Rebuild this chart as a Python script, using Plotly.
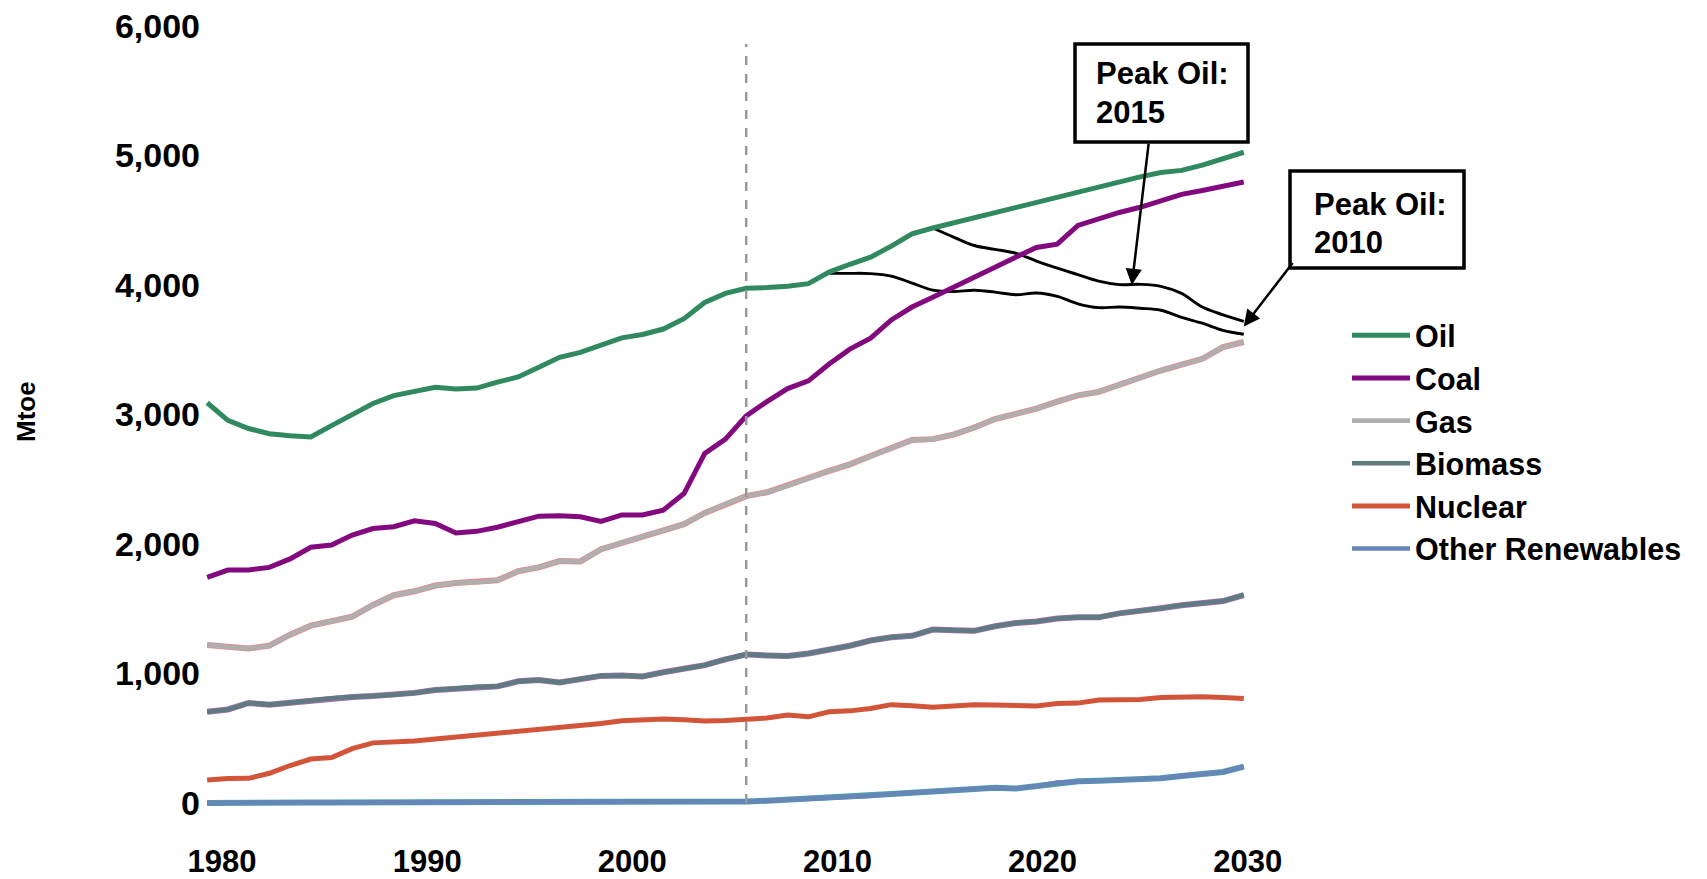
import plotly.graph_objects as go

# ---------------- data ----------------
years = list(range(1980, 2031))

oil = [3091, 2955, 2892, 2852, 2837, 2826, 2914, 3005, 3085, 3146,
       3178, 3210, 3198, 3204, 3250, 3290, 3365, 3442, 3480, 3540,
       3592, 3618, 3660, 3740, 3865, 3935, 3975, 3980, 3990, 4010,
       4100, 4160, 4215, 4300, 4395, 4440, 4480, 4515, 4555, 4595,
       4635, 4675, 4715, 4755, 4795, 4835, 4868, 4885, 4925, 4970,
       5025]
coal = [1743, 1799, 1800, 1820, 1885, 1975, 1992, 2069, 2120, 2134,
        2180, 2159, 2085, 2098, 2130, 2170, 2215, 2219, 2210, 2175,
        2225, 2225, 2262, 2390, 2700, 2810, 2990, 3100, 3200, 3260,
        3390, 3505, 3590, 3730, 3830, 3905, 3985, 4060, 4135, 4215,
        4290, 4315, 4460, 4515, 4560, 4600, 4650, 4700, 4730, 4758,
        4795]
gas = [1220, 1203, 1194, 1215, 1300, 1370, 1405, 1440, 1530, 1605,
       1635, 1680, 1700, 1705, 1720, 1790, 1820, 1869, 1866, 1960,
       2010, 2060, 2105, 2154, 2240, 2310, 2370, 2400, 2450, 2510,
       2565, 2615, 2680, 2740, 2803, 2810, 2845, 2900, 2965, 3005,
       3045, 3100, 3148, 3175, 3230, 3290, 3340, 3385, 3430, 3520,
       3560]
biomass = [705, 723, 773, 760, 775, 793, 810, 819, 826, 836,
           851, 873, 884, 897, 901, 940, 950, 932, 958, 982,
           985, 978, 1010, 1040, 1065, 1110, 1148, 1140, 1135, 1155,
           1181, 1215, 1255, 1280, 1292, 1340, 1335, 1330, 1365, 1390,
           1402, 1425, 1434, 1434, 1465, 1482, 1505, 1528, 1540, 1560,
           1606]
nuclear = [178, 190, 191, 230, 290, 340, 352, 420, 465, 470,
           480, 495, 510, 525, 540, 552, 568, 582, 593, 615,
           636, 642, 650, 643, 633, 637, 645, 657, 680, 666,
           705, 712, 730, 760, 752, 740, 750, 760, 758, 752,
           749, 768, 772, 795, 795, 800, 815, 821, 821, 816,
           808]
renewables = [0, 3, 5, 5, 5, 5, 5, 5, 5, 8,
              12, 12, 10, 10, 10, 8, 7, 5, 5, 5,
              5, 5, 5, 5, 5, 8, 12, 18, 25, 32,
              40, 48, 56, 70, 80, 88, 95, 107, 118, 112,
              130, 158, 168, 172, 178, 182, 192, 210, 228, 240,
              282]

peak2015_years = list(range(2015, 2031))
peak2015 = [4440, 4370, 4305, 4275, 4245, 4185, 4130, 4080, 4030, 4003,
            4005, 3990, 3935, 3830, 3770, 3720]
peak2010_years = list(range(2010, 2031))
peak2010 = [4090, 4090, 4088, 4068, 4015, 3960, 3950, 3960, 3945, 3925,
            3938, 3912, 3855, 3825, 3830, 3820, 3805, 3750, 3705, 3650,
            3620]

base_year = 2006
tick_labels = ["1980", "1990", "2000", "2010", "2020", "2030"]
y_ticks = [0, 1000, 2000, 3000, 4000, 5000, 6000]

# ---------------- layout geometry ----------------
# the page body adds an 8px margin, so the figure starts 8px in from the window edge
OFF = 8
W, H = 1707 - OFF, 879 - OFF
ML, MT = 203 - OFF, 13 - OFF
PLOT_R, PLOT_B = 1250 - OFF, 829 - OFF
MR, MB = W - PLOT_R, H - PLOT_B
PW, PH = PLOT_R - ML, PLOT_B - MT


def px_x(px):  # window pixel -> paper fraction
    return (px - OFF - ML) / PW


def px_y(py):
    return 1 - (py - OFF - MT) / PH


FONT = "Liberation Sans, Arial, sans-serif"

fig = go.Figure()

# peak oil scenario curves
fig.add_trace(go.Scatter(x=peak2015_years, y=peak2015, mode="lines",
                         line=dict(color="black", width=2.9, shape="spline"),
                         showlegend=False, hoverinfo="skip"))
fig.add_trace(go.Scatter(x=peak2010_years, y=peak2010, mode="lines",
                         line=dict(color="black", width=2.9, shape="spline"),
                         showlegend=False, hoverinfo="skip"))

series = [
    ("Oil", oil, "#318a5f", None),
    ("Coal", coal, "#820a7e", None),
    ("Gas", gas, "#b0aeae", "#e58a8a"),
    ("Biomass", biomass, "#5f7a80", "#a070b0"),
    ("Nuclear", nuclear, "#d2553a", None),
    ("Other Renewables", renewables, "#6685b8", "#4ea0a8"),
]

for name, vals, color, edge in series:
    if edge:
        fig.add_trace(go.Scatter(x=years, y=vals, mode="lines",
                                 line=dict(color=edge, width=6),
                                 showlegend=False, hoverinfo="skip"))
    fig.add_trace(go.Scatter(x=years, y=vals, mode="lines", name=name,
                             line=dict(color=color, width=5 if not edge else 4.6)))

# vertical dashed base-year line
fig.add_shape(type="line", xref="x", yref="y", x0=base_year, x1=base_year,
              y0=0, y1=5860, line=dict(color="#999999", width=2.5, dash="dash"))

# boxes
for (x0, x1, y0, y1) in [(1075, 1248, 44, 142), (1290, 1464, 171, 268)]:
    fig.add_shape(type="rect", xref="paper", yref="paper",
                  x0=px_x(x0), x1=px_x(x1), y0=px_y(y1), y1=px_y(y0),
                  line=dict(color="black", width=3.5), fillcolor="white",
                  layer="above")

annots = []
for txt, px, py in [("Peak Oil:", 1094, 74), ("2015", 1094, 112),
                    ("Peak Oil:", 1312, 204), ("2010", 1312, 242)]:
    annots.append(dict(text=txt, xref="paper", yref="paper", x=px_x(px), y=px_y(py),
                       xanchor="left", yanchor="middle", showarrow=False,
                       font=dict(family=FONT, size=31, color="black", weight="bold")))

# arrows
annots.append(dict(text="", x=2024.6, y=4000, xref="x", yref="y",
                   ax=17, ay=-143, axref="pixel", ayref="pixel", showarrow=True,
                   arrowhead=2, arrowsize=1.3, arrowwidth=2.5, arrowcolor="black"))
annots.append(dict(text="", x=2030.0, y=3680, xref="x", yref="y",
                   ax=50, ay=-65, axref="pixel", ayref="pixel", showarrow=True,
                   arrowhead=2, arrowsize=1.3, arrowwidth=2.5, arrowcolor="black"))

# y-axis title
annots.append(dict(text="Mtoe", xref="paper", yref="paper", x=px_x(26), y=px_y(412),
                   textangle=-90, showarrow=False, xanchor="center", yanchor="middle",
                   font=dict(family=FONT, size=26, color="black", weight="bold")))

tick_positions = [1980.72 + i * 9.894 for i in range(len(tick_labels))]

fig.update_layout(
    width=W, height=H,
    margin=dict(l=ML, r=MR, t=MT, b=MB, autoexpand=False),
    paper_bgcolor="white", plot_bgcolor="white",
    font=dict(family=FONT, size=31, color="black", weight="bold"),
    annotations=annots,
    showlegend=True,
    legend=dict(xref="container", yref="container",
                x=(1347 - OFF) / W, y=1 - (309 - OFF) / H, xanchor="left", yanchor="top",
                font=dict(family=FONT, size=30.5, color="black", weight="bold"),
                itemwidth=58, tracegroupgap=0, bgcolor="rgba(0,0,0,0)"),
    xaxis=dict(range=[1979.8, 2030.3], showgrid=False, zeroline=False, showline=False,
               automargin=False, ticklabeloverflow="allow",
               tickmode="array", tickvals=tick_positions, ticktext=tick_labels,
               ticks="", ticklabelstandoff=11,
               tickfont=dict(family=FONT, size=31, color="black", weight="bold")),
    yaxis=dict(range=[-200, 6100], showgrid=False, zeroline=False, showline=False,
               automargin=False, ticklabeloverflow="allow",
               tickmode="array", tickvals=y_ticks, tickformat=",",
               ticks="", ticklabelstandoff=2,
               tickfont=dict(family=FONT, size=34, color="black", weight="bold")),
)

fig.write_html("out.html")
